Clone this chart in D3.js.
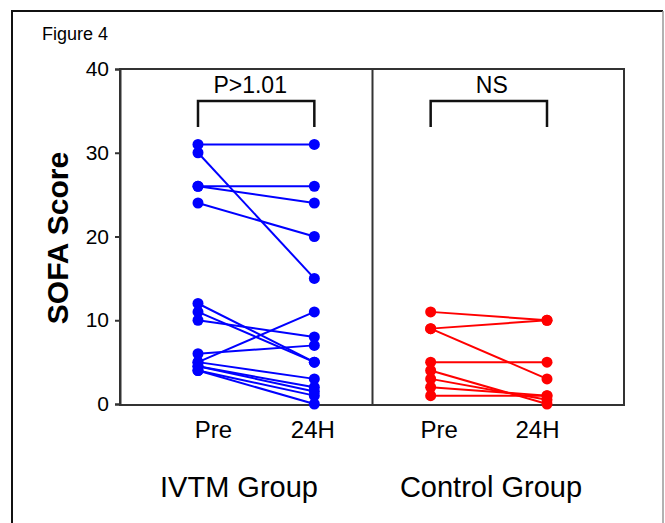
<!DOCTYPE html>
<html>
<head>
<meta charset="utf-8">
<script src="https://cdn.jsdelivr.net/npm/d3@7"></script>
<style>
  body { margin: 0; background: #fff; }
  text { font-family: "Liberation Sans", Arial, sans-serif; fill: #000; }
</style>
</head>
<body>
<script>
// chart values
const groups = ["IVTM Group", "Control Group"];
const timepoints = ["Pre", "24H"];
const yTicks = [0, 10, 20, 30, 40];
const ivtmPre = [31, 30, 26, 26, 24, 12, 11, 10, 6, 5, 5, 4.5, 4.5, 4, 4];
const ivtm24h = [31, 15, 26, 24, 20, 5, 5, 8, 7, 11, 3, 2, 1.5, 1, 0];
const ctrlPre = [11, 9, 9, 5, 4, 3, 2, 1];
const ctrl24h = [10, 10, 3, 5, 0, 0.5, 1, 1];
const pLabels = ["P>1.01", "NS"];
const colors = ["#0000ff", "#ff0000"];

const width = 665, height = 523;
const plot = { left: 120, right: 624, top: 69, bottom: 405 };

const svg = d3.select("body").append("svg")
  .attr("width", width)
  .attr("height", height);

// outer figure frame
svg.append("path")
  .attr("d", "M12,530 L12,11 L663,11")
  .attr("fill", "none").attr("stroke", "#111").attr("stroke-width", 2);
svg.append("line")
  .attr("x1", 663).attr("x2", 663).attr("y1", 11).attr("y2", 530)
  .attr("stroke", "#999").attr("stroke-width", 1.5);

svg.append("text")
  .attr("x", 42).attr("y", 40)
  .style("font-size", "18px")
  .text("Figure 4");

// scales
const keys = [];
groups.forEach(g => timepoints.forEach(t => keys.push(g + "|" + t)));
const x = d3.scalePoint().domain(keys).range([198, 547]);
const y = d3.scaleLinear().domain([0, 40]).range([plot.bottom - 1, plot.top]);

// plot frame + divider
svg.append("rect")
  .attr("x", plot.left).attr("y", plot.top)
  .attr("width", plot.right - plot.left).attr("height", plot.bottom - plot.top)
  .attr("fill", "none").attr("stroke", "#333").attr("stroke-width", 2);
const divX = (x(groups[0] + "|24H") + x(groups[1] + "|Pre")) / 2;
svg.append("line")
  .attr("x1", divX).attr("x2", divX).attr("y1", plot.top).attr("y2", plot.bottom)
  .attr("stroke", "#333").attr("stroke-width", 2);

// y axis
const yAxis = svg.append("g")
  .attr("transform", `translate(${plot.left},0)`)
  .call(d3.axisLeft(y).tickValues(yTicks).tickSize(5).tickPadding(6));
yAxis.select(".domain").attr("stroke", "#333").attr("stroke-width", 2);
yAxis.selectAll(".tick line").attr("stroke", "#333").attr("stroke-width", 2);
yAxis.selectAll("text").style("font-size", "21px").attr("fill", "#000");

svg.append("text")
  .attr("transform", `translate(68,238) rotate(-90)`)
  .attr("text-anchor", "middle")
  .style("font-size", "30px").style("font-weight", "bold")
  .text("SOFA Score");

// x axis labels (the labels sit a little off the dot columns in the figure)
const labelShift = [15, -2, 8, -10];
const xAxis = svg.append("g")
  .attr("transform", `translate(0,${plot.bottom})`)
  .call(d3.axisBottom(x).tickSize(0).tickPadding(16).tickFormat(d => d.split("|")[1]));
xAxis.select(".domain").remove();
xAxis.selectAll("text")
  .style("font-size", "24px").attr("fill", "#000")
  .attr("dx", (d, i) => labelShift[i]);

const groupLabelX = [239, 491];
svg.selectAll(".glabel").data(groups).enter().append("text")
  .attr("class", "glabel")
  .attr("x", (d, i) => groupLabelX[i]).attr("y", 497)
  .attr("text-anchor", "middle")
  .style("font-size", "29px")
  .text(d => d);

// data: paired lines + dots
const series = [
  { group: groups[0], pre: ivtmPre, post: ivtm24h, color: colors[0] },
  { group: groups[1], pre: ctrlPre, post: ctrl24h, color: colors[1] }
];

series.forEach(s => {
  const pairs = s.pre.map((v, i) => [v, s.post[i]]);
  const g = svg.append("g");
  const xa = x(s.group + "|Pre"), xb = x(s.group + "|24H");
  g.selectAll("line").data(pairs).enter().append("line")
    .attr("x1", xa).attr("y1", d => y(d[0]))
    .attr("x2", xb).attr("y2", d => y(d[1]))
    .attr("stroke", s.color).attr("stroke-width", 2);
  g.selectAll(".pre").data(s.pre).enter().append("circle")
    .attr("class", "pre")
    .attr("cx", xa).attr("cy", d => y(d)).attr("r", 5.5)
    .attr("fill", s.color);
  g.selectAll(".post").data(s.post).enter().append("circle")
    .attr("class", "post")
    .attr("cx", xb).attr("cy", d => y(d)).attr("r", 5.5)
    .attr("fill", s.color);
});

// significance brackets
const pShift = [-6, 3];
groups.forEach((grp, i) => {
  const xa = x(grp + "|Pre"), xb = x(grp + "|24H");
  svg.append("path")
    .attr("d", `M${xa},127 L${xa},101 L${xb},101 L${xb},127`)
    .attr("fill", "none").attr("stroke", "#111").attr("stroke-width", 2.5);
  svg.append("text")
    .attr("x", (xa + xb) / 2 + pShift[i]).attr("y", 93)
    .attr("text-anchor", "middle")
    .style("font-size", "23px")
    .text(pLabels[i]);
});
</script>
</body>
</html>
